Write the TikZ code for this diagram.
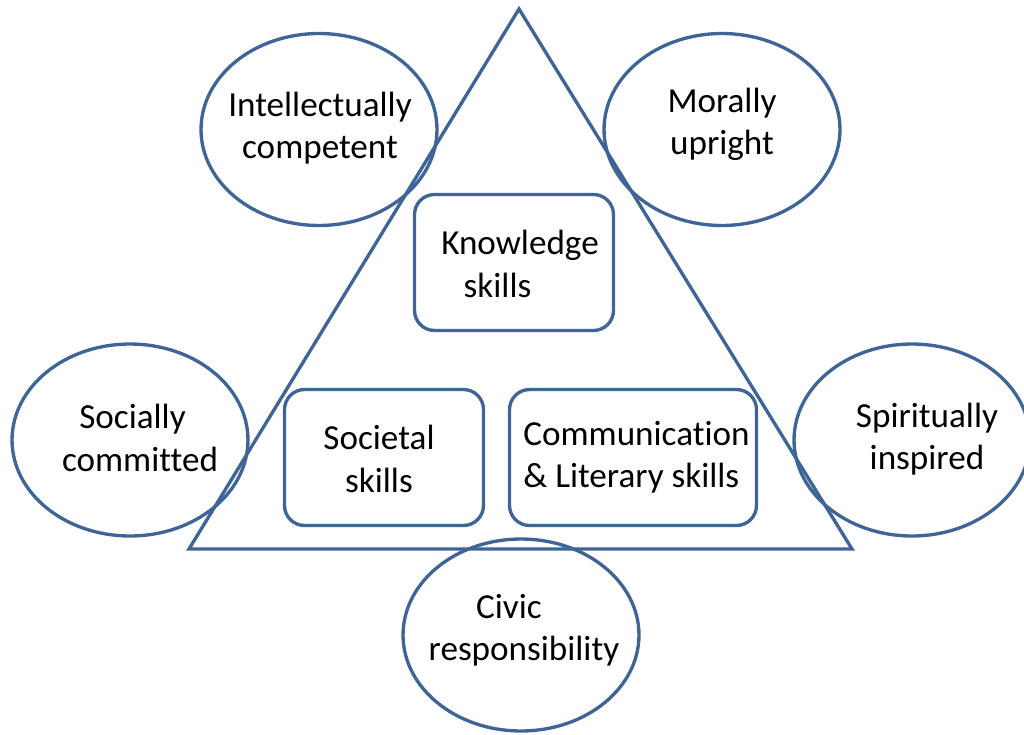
\documentclass[tikz,border=0pt]{standalone}
\usepackage{fontspec}
\setmainfont{Carlito}[Ligatures=NoCommon]
\usetikzlibrary{shapes, shapes.geometric, positioning}

\definecolor{lineblue}{HTML}{3F6597}

\begin{document}
\begin{tikzpicture}[
  x=0.02cm, y=-0.02cm, % one unit = one pixel of the original picture
  oval/.style={ellipse, draw=lineblue, line width=1.9pt, inner sep=0pt,
    minimum width=4.72cm, minimum height=3.84cm},
  skillbox/.style={rectangle, rounded corners=0.4cm, draw=lineblue, line width=1.9pt,
    fill=white, inner sep=0pt, minimum height=2.72cm},
  txt/.style={align=center, font=\fontsize{20}{24}\selectfont, inner sep=0pt}]

  \useasboundingbox (0,0) rectangle (1024,734);

  % the triangle
  \coordinate (apex) at (519,9);
  \coordinate (left) at (189,549);
  \coordinate (right) at (852,549);
  \draw[lineblue, line width=1.9pt, line join=miter] (apex) -- (left) -- (right) -- cycle;

  % skills inside
  \node[skillbox, minimum width=3.98cm] (know) at (514,262.5) {};
  \node[txt] (knowTxt) at (520,264) {Knowledge\\skills\hspace*{0.9cm}};

  \node[skillbox, minimum width=3.98cm] (soc) at (384,457.5) {};
  \node[txt] (socTxt) at (379,459) {Societal\\skills};

  \node[skillbox, minimum width=4.94cm] (comm) at (633,457.5) {};
  \node[txt, align=left] (commTxt) at (636.5,457.5) {Communication\\\& Literary skills};

  % qualities round the triangle
  \node[oval] (intell) at (319,129.5) {};
  \node[txt] (intellTxt) at (320,128) {Intellectually\\competent};

  \node[oval] (moral) at (722,129.5) {};
  \node[txt] (moralTxt) at (722,124) {Morally\\upright};

  \node[oval] (social) at (130,440) {};
  \node[txt] (socialTxt) at (140,438) {Socially\hspace*{0.3cm}\\committed};

  \node[oval] (spirit) at (912,440) {};
  \node[txt] (spiritTxt) at (927,439) {Spiritually\\inspired};

  \node[oval] (civic) at (521,635) {};
  \node[txt] (civicTxt) at (524,630.5) {\hspace*{-0.6cm}Civic\\responsibility};
\end{tikzpicture}
\end{document}
